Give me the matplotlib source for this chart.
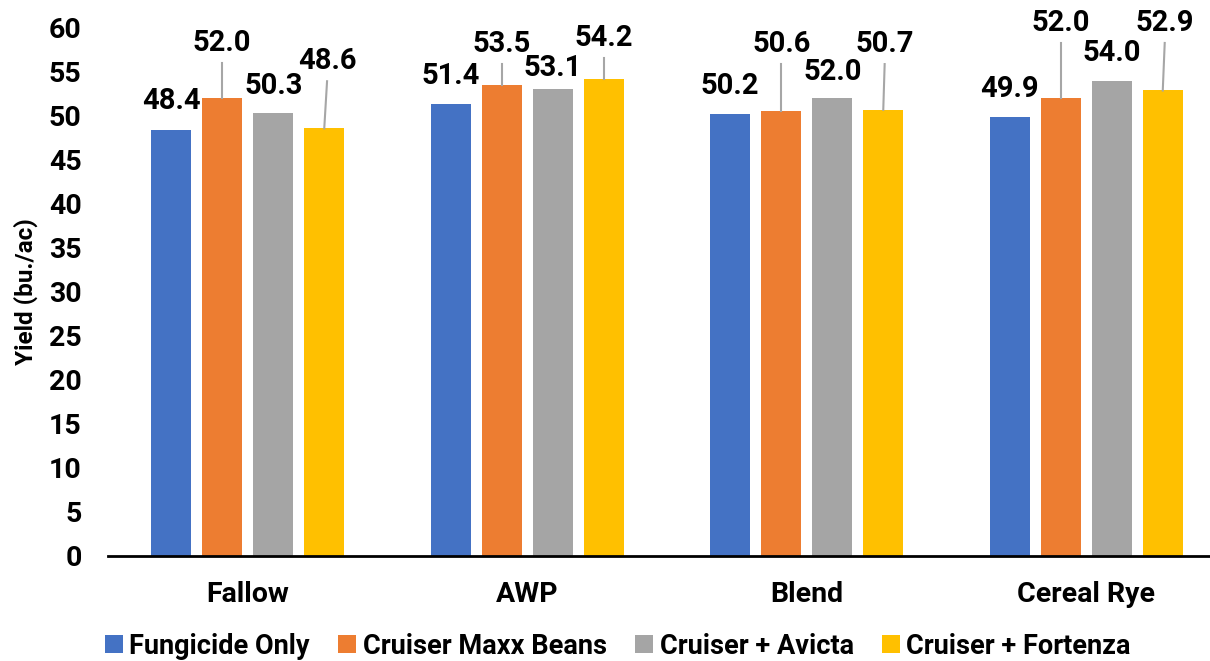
import numpy as np
import matplotlib.pyplot as plt
from matplotlib.patches import Patch

plt.rcParams['font.family'] = ['Roboto', 'DejaVu Sans']
plt.rcParams['font.weight'] = 'bold'

# -----------------------------
# Data
# -----------------------------
groups = ['Fallow', 'AWP', 'Blend', 'Cereal Rye']
series = ['Fungicide Only', 'Cruiser Maxx Beans', 'Cruiser + Avicta', 'Cruiser + Fortenza']
fungicide_only = [48.4, 51.4, 50.2, 49.9]
cruiser_maxx = [52.0, 53.5, 50.6, 52.0]
cruiser_avicta = [50.3, 53.1, 52.0, 54.0]
cruiser_fortenza = [48.6, 54.2, 50.7, 52.9]
yticks = list(range(0, 61, 5))

values = [fungicide_only, cruiser_maxx, cruiser_avicta, cruiser_fortenza]
colors = ['#4472C4', '#ED7D31', '#A5A5A5', '#FFC000']

# label placement (offset above bar top, in data units) per series, per group
label_dy = [[3.3, 3.1, 3.2, 3.2],
            [6.3, 4.7, 7.6, 8.6],
            [3.1, 2.4, 3.0, 3.2],
            [7.65, 4.7, 7.5, 7.7]]
label_dx = [[0, 0, 0, 0],
            [0, 0, 0, 0],
            [0, 0, 0, 0],
            [0.01, 0, 0.005, 0.007]]

# -----------------------------
# Plot
# -----------------------------
fig = plt.figure(figsize=(12.1, 6.61), dpi=100)
ax = fig.add_axes([108 / 1210, 1 - 556 / 661, 1118 / 1210, 528 / 661])

x = np.arange(len(groups))
width = 0.143
pitch = 0.1825
for i, (vals, c) in enumerate(zip(values, colors)):
    xs = x + (i - 1.5) * pitch
    ax.bar(xs, vals, width=width, color=c, label=series[i], zorder=2)
    for j, v in enumerate(vals):
        ly = v + label_dy[i][j]
        lx = xs[j] + label_dx[i][j]
        ax.text(lx, ly, f'{v:.1f}', ha='center', va='center', fontsize=21,
                fontweight='bold', clip_on=False, zorder=4)
        if label_dy[i][j] > 4:
            ax.plot([xs[j], lx], [v, ly - 2.3], color='#A6A6A6', lw=1.5,
                    clip_on=False, zorder=3)

ax.set_xlim(-0.5, len(groups) - 0.5)
ax.set_ylim(0, 60)
ax.set_yticks(yticks)
ax.set_xticks(x)
ax.set_xticklabels(groups)
ax.tick_params(axis='y', length=0, pad=19, labelsize=20.5)
ax.tick_params(axis='x', length=0, pad=18, labelsize=20.5)
for s in ['top', 'right', 'left']:
    ax.spines[s].set_visible(False)
ax.spines['bottom'].set_linewidth(2)
ax.set_ylabel('Yield (bu./ac)', fontsize=17.5, fontweight='bold', labelpad=8)

handles = [Patch(facecolor=c) for c in colors]
fig.legend(handles, series, loc='center', bbox_to_anchor=(618 / 1210, 1 - 646 / 661),
           ncol=4, frameon=False, fontsize=19.5, handlelength=0.65, handleheight=0.65,
           handletextpad=0.25, columnspacing=1.05)

plt.savefig('out.png', dpi=100)
